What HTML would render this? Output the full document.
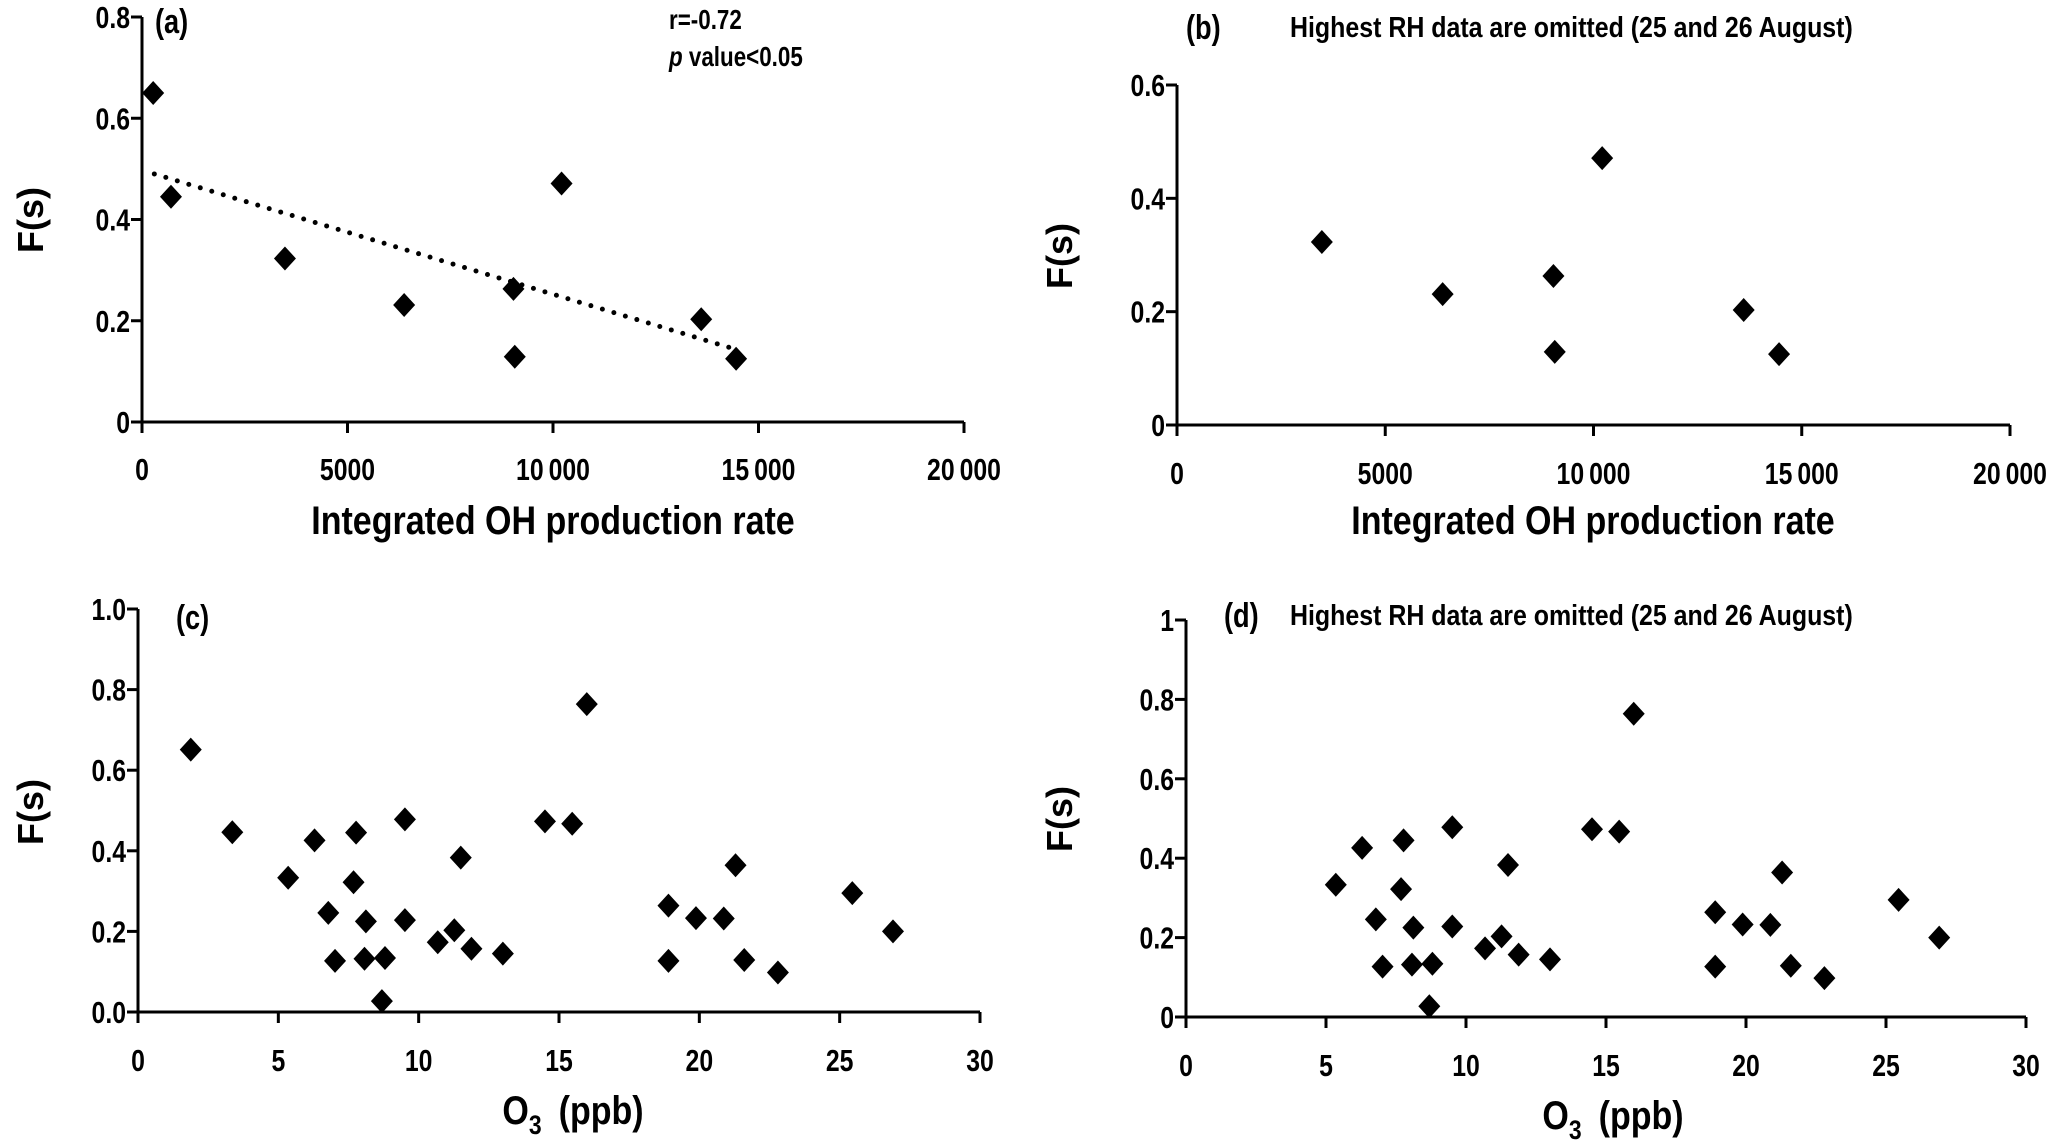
<!DOCTYPE html>
<html><head><meta charset="utf-8"><style>
html,body{margin:0;padding:0;background:#fff;}
svg{display:block;}
text{font-family:"Liberation Sans",sans-serif;font-weight:bold;fill:#000;}
.yl{font-family:"Liberation Sans",sans-serif;font-weight:bold;font-size:36px;}
</style></head><body>
<svg id="c" width="2067" height="1148" viewBox="0 0 2067 1148" xmlns="http://www.w3.org/2000/svg"></svg>
<script>
// Panel (a)/(b) data: Integrated OH production rate vs F(s)
const ohX = [272, 705, 3478, 6378, 9038, 9070, 10208, 13606, 14455];
const ohY = [0.65, 0.445, 0.323, 0.231, 0.263, 0.129, 0.471, 0.203, 0.125];
const ohXb = [3478, 6378, 9038, 9070, 10208, 13606, 14455];
const ohYb = [0.323, 0.231, 0.263, 0.129, 0.471, 0.203, 0.125];
const trendX = [300, 14300];
const trendY = [0.49, 0.147];
// Panel (c)/(d) data: O3 vs F(s)
const o3X = [1.88,3.36,5.35,6.29,6.78,7.02,7.77,7.68,8.12,8.07,8.80,8.69,9.51,9.51,10.68,11.27,11.5,11.88,13.0,14.5,15.47,15.99,18.9,18.9,19.88,20.87,21.29,21.6,22.8,25.45,26.9];
const o3Y = [0.651,0.446,0.333,0.426,0.246,0.127,0.445,0.322,0.225,0.132,0.134,0.027,0.478,0.228,0.173,0.203,0.383,0.157,0.145,0.473,0.467,0.764,0.264,0.127,0.233,0.232,0.364,0.129,0.098,0.295,0.2];
const o3Xd = o3X.slice(2);
const o3Yd = o3Y.slice(2);
const ohTicks = [0,5000,10000,15000,20000];
const ohTickLabels = ["0","5000","10\u2009000","15\u2009000","20\u2009000"];
const o3Ticks = [0,5,10,15,20,25,30];
const o3TickLabels = ["0","5","10","15","20","25","30"];
const yTicksA = [0,0.2,0.4,0.6,0.8]; const yLabA = ["0","0.2","0.4","0.6","0.8"];
const yTicksB = [0,0.2,0.4,0.6]; const yLabB = ["0","0.2","0.4","0.6"];
const yTicksC = [0,0.2,0.4,0.6,0.8,1.0]; const yLabC = ["0.0","0.2","0.4","0.6","0.8","1.0"];
const yTicksD = [0,0.2,0.4,0.6,0.8,1]; const yLabD = ["0","0.2","0.4","0.6","0.8","1"];

const svg = document.getElementById('c');
const NS = 'http://www.w3.org/2000/svg';
function el(tag, attrs, parent){const e=document.createElementNS(NS,tag);for(const k in attrs)e.setAttribute(k,attrs[k]);(parent||svg).appendChild(e);return e;}
function ctext(x,y,anchor,size,parent,sc){
  const g = el('g',{transform:`translate(${x} ${y}) scale(${sc||0.8} 1)`},parent);
  return el('text',{x:0,y:0,'text-anchor':anchor,'font-size':size},g);
}

function panel(p){
  const g = el('g',{});
  
  
  const sx = v => p.x0 + (v - p.xmin)/(p.xmax - p.xmin)*(p.x1 - p.x0);
  const sy = v => p.y0 - (v - p.ymin)/(p.ymax - p.ymin)*(p.y0 - p.y1);
  const ya = el('line',{x1:p.x0,y1:p.y0,x2:p.x0,y2:sy(p.ymax),stroke:'#000','stroke-width':3},g);
  
  
  const xa = el('line',{x1:p.x0-11,y1:p.y0,x2:sx(p.xmax),y2:p.y0,stroke:'#000','stroke-width':3},g);
  
  
  p.yt.forEach((v,i)=>{
    el('line',{x1:p.x0-11,y1:sy(v),x2:p.x0,y2:sy(v),stroke:'#000','stroke-width':3},g);
    const t = ctext(p.x0-12,sy(v)+11,'end',31,g);
    t.textContent = p.yl[i];
    
    
  });
  p.xt.forEach((v,i)=>{
    el('line',{x1:sx(v),y1:p.y0,x2:sx(v),y2:p.y0+11,stroke:'#000','stroke-width':3},g);
    const t = ctext(sx(v),p.xly+2,'middle',31,g);
    t.textContent = p.xl[i];
    
    
  });
  if(p.trend){
    const tl = el('line',{x1:sx(p.trend[0][0]),y1:sy(p.trend[1][0]),x2:sx(p.trend[0][1]),y2:sy(p.trend[1][1]),stroke:'#000','stroke-width':5,'stroke-dasharray':'0 12','stroke-linecap':'round'},g);
    
    
  }
  p.xs.forEach((v,i)=>{
    const cx=sx(v), cy=sy(p.ys[i]);
    const m = el('polygon',{points:`${cx},${cy-12} ${cx+11},${cy} ${cx},${cy+12} ${cx-11},${cy}`,fill:'#000'},g);
    
    
  });
  const yt = el('text',{x:p.ylx,y:p.yly,'text-anchor':'middle',class:'yl',transform:`rotate(-90 ${p.ylx} ${p.yly})`,dy:13},g);
  yt.textContent='F(s)';
  
  
  const xt = ctext(p.xtx,p.xty+2,'middle',40,g,0.85);
  if(p.o3){
    xt.innerHTML = 'O<tspan font-size="27" dy="10">3</tspan><tspan dy="-10">\u2002(ppb)</tspan>';
  } else xt.textContent = 'Integrated OH production rate';
  
  
  const lb = ctext(p.lbx,p.lby,'start',34,g);
  lb.textContent = '(' + p.id + ')';
  
  
  if(p.note){
    const n = ctext(1290,p.lby-2,'start',29,g,0.86);
    n.textContent='Highest RH data are omitted (25 and 26 August)';
    
    
  }
}
panel({id:'a',x0:142,x1:964,y0:422,y1:17,xmin:0,xmax:20000,ymin:0,ymax:0.8,xt:ohTicks,xl:ohTickLabels,yt:yTicksA,yl:yLabA,xs:ohX,ys:ohY,trend:[trendX,trendY],xly:478,ylx:30,yly:220,xtx:553,xty:532,lbx:155,lby:33});
panel({id:'b',x0:1177,x1:2010,y0:425,y1:85,xmin:0,xmax:20000,ymin:0,ymax:0.6,xt:ohTicks,xl:ohTickLabels,yt:yTicksB,yl:yLabB,xs:ohXb,ys:ohYb,xly:482,ylx:1059,yly:256,xtx:1593,xty:532,lbx:1186,lby:39,note:true});
panel({id:'c',x0:138,x1:980,y0:1012,y1:609,xmin:0,xmax:30,ymin:0,ymax:1.0,xt:o3Ticks,xl:o3TickLabels,yt:yTicksC,yl:yLabC,xs:o3X,ys:o3Y,xly:1069,ylx:30,yly:812,xtx:573,xty:1122,lbx:176,lby:629,o3:true});
panel({id:'d',x0:1186,x1:2026,y0:1017,y1:620,xmin:0,xmax:30,ymin:0,ymax:1,xt:o3Ticks,xl:o3TickLabels,yt:yTicksD,yl:yLabD,xs:o3Xd,ys:o3Yd,xly:1074,ylx:1059,yly:819,xtx:1613,xty:1127,lbx:1224,lby:627,o3:true,note:true});
// annotations in (a)
const r = ctext(669,29,'start',28); r.textContent='r=-0.72';


const pv = ctext(669,66,'start',28); pv.innerHTML='<tspan font-style="italic">p</tspan> value&lt;0.05';


</script>
</body></html>
